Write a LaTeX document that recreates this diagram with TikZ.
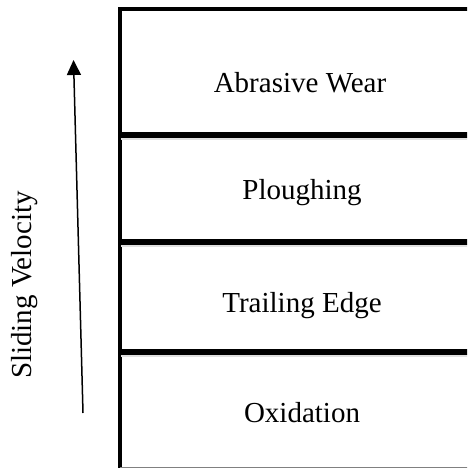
\documentclass[tikz,border=0pt]{standalone}
\usepackage{fontspec}
\setmainfont{Liberation Serif}
\usetikzlibrary{positioning,arrows.meta}
\tikzstyle{zone}=[font=\fontsize{29}{33}\selectfont, inner sep=0pt, anchor=base]
\tikzstyle{frame}=[line width=3.5pt]
\tikzstyle{divider}=[line width=5.5pt]
\tikzstyle{shade}=[line width=3pt, black!12]

\begin{document}
\begin{tikzpicture}[%
    x=1pt,
    y=-1pt,
    >={Triangle[width=14pt,length=15pt]}
  ]
      \useasboundingbox (0,0) rectangle (467,468);
      \clip (0,0) rectangle (467,468);

      %Frame
      \draw[frame] (120,470) -- (120,9) -- (490,9);
      \draw[gray, line width=1pt] (120,467.5) -- (490,467.5);

      %Dividers (with a light shadow under each)
      \foreach \y in {135,242,352}{
        \draw[shade] (121,\y+3.5) -- (490,\y+3.5);
        \draw[divider] (118,\y) -- (490,\y);
      }

      %Zones
      \node[zone] (abrasive) at (300,93) {Abrasive Wear};
      \node[zone] (ploughing) at (302,199) {Ploughing};
      \node[zone] (trailing) at (302,312) {Trailing Edge};
      \node[zone] (oxidation) at (302,422) {Oxidation};

      %Velocity axis
      \coordinate (low) at (83,413);
      \coordinate (high) at (73.5,60);
      \draw[->, line width=1.5pt] (low) -- (high);
      \node[zone, rotate=90] (velocity) at (31,285) {Sliding Velocity};
    \end{tikzpicture}
\end{document}
